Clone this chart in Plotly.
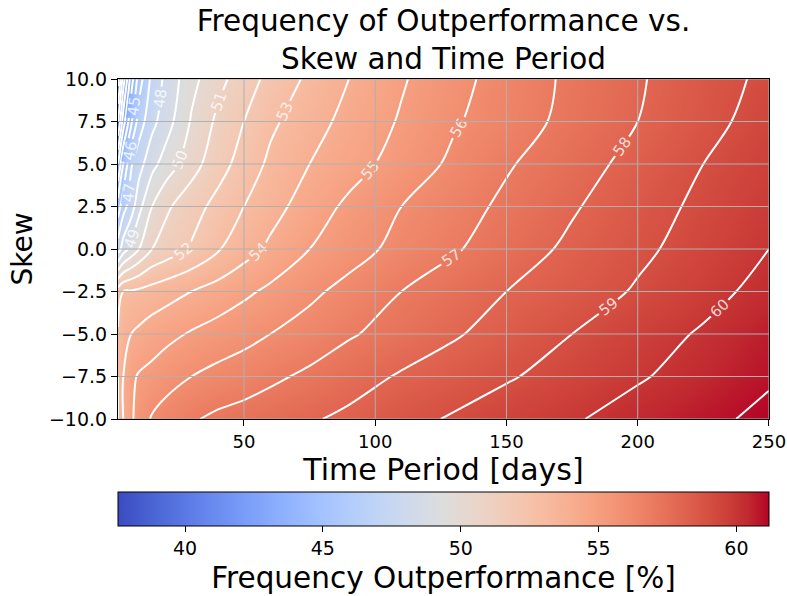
import plotly.graph_objects as go

# ---------------- data ----------------
time_days = [2, 4, 7, 10, 15, 20, 30, 40, 50, 60, 75, 90, 110, 130, 150, 175, 200, 225, 250]
skew = [-10, -7.5, -5, -2.5, 0, 2.5, 5, 7.5, 10]

freq_skew_m10_0 = [53.0, 54.0, 54.8, 55.5, 56.1, 56.4, 56.9, 57.2, 57.4, 57.6, 57.9, 58.2, 58.7, 59.1, 59.5, 59.9, 60.4, 60.8, 61.2]
freq_skew_m7_5 = [53.0, 54.0, 54.8, 55.1, 55.3, 55.6, 56.0, 56.3, 56.5, 56.8, 57.2, 57.6, 58.1, 58.5, 58.9, 59.4, 59.9, 60.4, 60.9]
freq_skew_m5_0 = [53.1, 53.5, 54.0, 54.2, 54.5, 54.7, 55.1, 55.4, 55.7, 56.0, 56.4, 56.9, 57.4, 57.9, 58.4, 59.0, 59.6, 60.1, 60.7]
freq_skew_m2_5 = [52.5, 53.0, 53.1, 53.2, 53.4, 53.6, 54.0, 54.4, 54.8, 55.2, 55.8, 56.3, 57.0, 57.5, 58.0, 58.5, 59.1, 59.7, 60.3]
freq_skew_p0_0 = [47.5, 48.5, 49.3, 50.0, 51.0, 51.4, 52.1, 52.9, 53.6, 54.2, 55.0, 55.6, 56.3, 56.9, 57.5, 58.2, 58.8, 59.4, 60.0]
freq_skew_p2_5 = [45.5, 46.6, 47.5, 48.7, 50.0, 50.8, 51.6, 52.3, 53.0, 53.6, 54.5, 55.2, 56.0, 56.6, 57.2, 57.9, 58.6, 59.2, 59.8]
freq_skew_p5_0 = [43.0, 45.0, 46.9, 47.6, 48.7, 49.4, 50.6, 51.6, 52.4, 53.2, 54.0, 54.6, 55.4, 56.2, 56.9, 57.6, 58.3, 59.0, 59.6]
freq_skew_p7_5 = [40.0, 42.5, 44.8, 46.5, 47.7, 48.5, 50.1, 51.2, 52.0, 52.8, 53.6, 54.3, 55.1, 55.9, 56.5, 57.3, 58.0, 58.7, 59.4]
freq_skew_p10_0 = [37.6, 40.5, 43.5, 45.5, 47.3, 48.2, 49.7, 50.7, 51.5, 52.3, 53.2, 54.0, 54.9, 55.7, 56.4, 57.2, 57.9, 58.6, 59.2]

z_rows = [freq_skew_m10_0, freq_skew_m7_5, freq_skew_m5_0, freq_skew_m2_5, freq_skew_p0_0,
          freq_skew_p2_5, freq_skew_p5_0, freq_skew_p7_5, freq_skew_p10_0]

x_tick_vals = [50, 100, 150, 200, 250]
x_tick_text = ["50", "100", "150", "200", "250"]
y_tick_vals = [-10, -7.5, -5, -2.5, 0, 2.5, 5, 7.5, 10]
y_tick_text = ["\u221210.0", "\u22127.5", "\u22125.0", "\u22122.5", "0.0", "2.5", "5.0", "7.5", "10.0"]
cbar_tick_vals = [40, 45, 50, 55, 60]
cbar_tick_text = ["40", "45", "50", "55", "60"]
z_min, z_max = 37.57, 61.18
level_start, level_end, level_step = 38, 61, 1

# matplotlib "coolwarm"
coolwarm_rgb = [
    (0.2298057, 0.298717966, 0.753683153), (0.26623388, 0.353094838, 0.801466763),
    (0.30386891, 0.406535296, 0.84495867), (0.342804478, 0.458757618, 0.883725899),
    (0.38301334, 0.50941904, 0.917387822), (0.424369608, 0.558148092, 0.945619588),
    (0.46666708, 0.604562568, 0.968154911), (0.509635204, 0.648280772, 0.98478814),
    (0.552953156, 0.688929332, 0.995375608), (0.596262162, 0.726149107, 0.999836203),
    (0.639176211, 0.759599947, 0.998151185), (0.681291281, 0.788964712, 0.990363227),
    (0.722193294, 0.813952739, 0.976574709), (0.761464949, 0.834302879, 0.956945269),
    (0.798691636, 0.849786142, 0.931688648), (0.833466556, 0.860207984, 0.901068838),
    (0.865395197, 0.86541021, 0.865395561), (0.897787179, 0.848937047, 0.820880546),
    (0.924127593, 0.827384882, 0.774508472), (0.944468518, 0.800927443, 0.726736146),
    (0.958852946, 0.769767752, 0.678007945), (0.96732803, 0.734132809, 0.628751763),
    (0.969954137, 0.694266682, 0.579375448), (0.966811177, 0.650421156, 0.530263762),
    (0.958003065, 0.602842431, 0.481775914), (0.943660866, 0.551750968, 0.434243684),
    (0.923944917, 0.49730856, 0.387970225), (0.89904617, 0.439559467, 0.343229596),
    (0.869186849, 0.378313092, 0.300267182), (0.834620542, 0.312874446, 0.259301199),
    (0.795631745, 0.24128379, 0.220525627), (0.752534934, 0.157246067, 0.184115123),
    (0.705673158, 0.01555616, 0.150232812),
]
n = len(coolwarm_rgb) - 1
coolwarm = [[i / n, "rgb(%d,%d,%d)" % tuple(round(c * 255) for c in rgb)]
            for i, rgb in enumerate(coolwarm_rgb)]

FONT = "DejaVu Sans"

fig = go.Figure()

fig.add_trace(go.Heatmap(
    x=time_days, y=skew, z=z_rows, zsmooth="best",
    colorscale=coolwarm, zmin=z_min, zmax=z_max,
    hoverinfo="skip",
    colorbar=dict(
        orientation="h", x=0.5, xanchor="center", len=1.0, lenmode="fraction",
        y=-0.2147, yanchor="top", thickness=34, xpad=0, ypad=0,
        outlinecolor="black", outlinewidth=1,
        ticks="outside", ticklen=6, tickcolor="black",
        tickvals=cbar_tick_vals, ticktext=cbar_tick_text,
        tickfont=dict(family=FONT, size=19, color="black"),
        title=dict(text="Frequency Outperformance [%]", side="bottom",
                   font=dict(family=FONT, size=29.5, color="black")),
    ),
))

# grid lines (drawn between the image and the contour lines, like matplotlib)
for v in x_tick_vals:
    fig.add_trace(go.Scatter(x=[v, v], y=[skew[0], skew[-1]], mode="lines",
                             line=dict(color="#b0b0b0", width=1), hoverinfo="skip",
                             showlegend=False))
for v in y_tick_vals:
    fig.add_trace(go.Scatter(x=[time_days[0], time_days[-1]], y=[v, v], mode="lines",
                             line=dict(color="#b0b0b0", width=1), hoverinfo="skip",
                             showlegend=False))

fig.add_trace(go.Contour(
    x=time_days, y=skew, z=z_rows, showscale=False, hoverinfo="skip",
    contours=dict(coloring="none", start=level_start, end=level_end, size=level_step,
                  showlabels=True,
                  labelfont=dict(family=FONT, size=15, color="rgba(255,255,255,0.8)")),
    line=dict(color="white", width=2, smoothing=1),
))

fig.update_layout(
    width=787, height=596,
    margin=dict(l=118, r=18, t=79, b=177, autoexpand=False),
    paper_bgcolor="white", plot_bgcolor="white",
    showlegend=False,
    font=dict(family=FONT, color="black"),
    title=dict(text="Frequency of Outperformance vs.<br>Skew and Time Period",
               x=0.5, xref="paper", xanchor="center",
               y=1 - 30.5 / 596, yref="container", yanchor="middle",
               font=dict(family=FONT, size=29.5, color="black")),
    xaxis=dict(range=[time_days[0], time_days[-1] + 0.01], tickvals=x_tick_vals, ticktext=x_tick_text,
               showgrid=False, zeroline=False, showline=True, mirror=True, automargin=False,
               ticklabeloverflow="allow",
               linecolor="black", linewidth=1, ticks="outside", ticklen=6, tickcolor="black",
               tickfont=dict(family=FONT, size=18),
               title=dict(text="Time Period [days]", font=dict(family=FONT, size=30), standoff=4)),
    yaxis=dict(range=[skew[0], skew[-1]], tickvals=y_tick_vals, ticktext=y_tick_text,
               showgrid=False, zeroline=False, showline=True, mirror=True, automargin=False,
               ticklabeloverflow="allow",
               linecolor="black", linewidth=1, ticks="outside", ticklen=6, tickcolor="black",
               tickfont=dict(family=FONT, size=19),
               title=dict(text="Skew", font=dict(family=FONT, size=28), standoff=8)),
)

fig.write_html("out.html")
